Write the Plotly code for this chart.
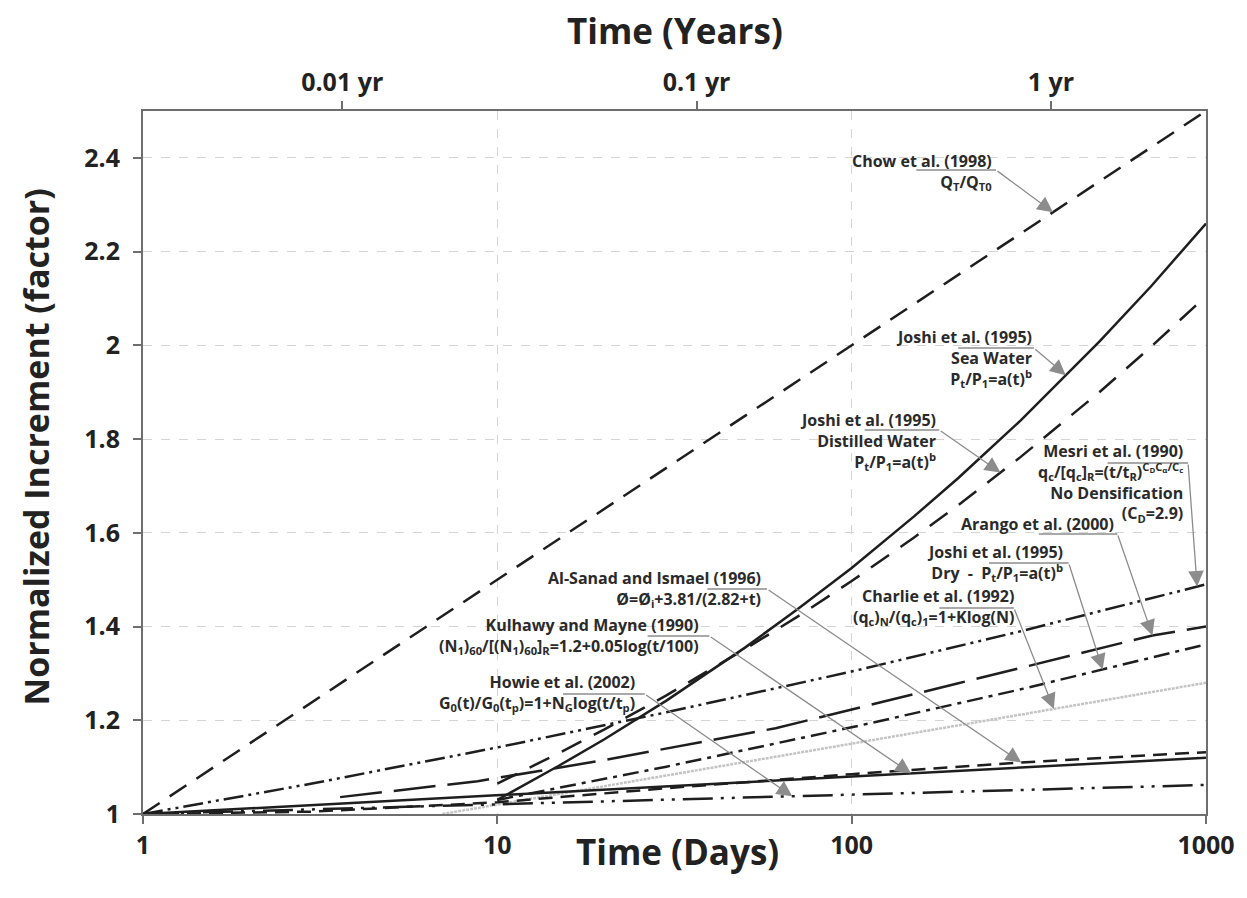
import numpy as np
import plotly.graph_objects as go

# ---------------- data (t in days, normalized increment) ----------------
chow_t = [1, 10, 100, 1000]
chow_y = [1.0, 1.5, 2.0, 2.5]

sea_t = [10, 15, 20, 30, 50, 70, 100, 150, 200, 300, 500, 700, 1000]
sea_y = [1.03, 1.104, 1.159, 1.242, 1.355, 1.436, 1.525, 1.635, 1.717, 1.84, 2.008, 2.126, 2.26]

dist_t = [10, 15, 20, 30, 50, 70, 100, 150, 200, 300, 500, 700, 1000]
dist_y = [1.065, 1.131, 1.18, 1.253, 1.352, 1.42, 1.497, 1.59, 1.659, 1.762, 1.9, 1.997, 2.105]

mesri_t = [1, 3, 10, 30, 100, 300, 1000]
mesri_y = [1.0, 1.065, 1.142, 1.217, 1.304, 1.39, 1.49]

arango_t = [3.6, 8.8, 20, 61, 200, 706, 1000]
arango_y = [1.036, 1.07, 1.115, 1.183, 1.279, 1.381, 1.40]

dry_t = [10, 30, 100, 300, 1000]
dry_y = [1.03, 1.101, 1.185, 1.266, 1.362]

charlie_t = [7, 30, 100, 300, 1000]
charlie_y = [1.0, 1.082, 1.15, 1.212, 1.28]

alsanad_t = [1, 3, 10, 30, 100, 300, 1000]
alsanad_y = [1.0, 1.005, 1.025, 1.055, 1.085, 1.11, 1.132]

kulhawy_t = [1, 10, 100, 1000]
kulhawy_y = [1.0, 1.04, 1.08, 1.12]

howie_t = [1, 10, 100, 1000]
howie_y = [1.0, 1.021, 1.041, 1.062]

y_ticks = [1, 1.2, 1.4, 1.6, 1.8, 2, 2.2, 2.4]
x_ticks = [1, 10, 100, 1000]
yr_ticks_days = [3.65, 36.5, 365]
yr_tick_labels = ["0.01 yr", "0.1 yr", "1 yr"]

# ---------------- geometry helpers (plot area in pixels) ----------------
L, R, T, B = 143, 1211, 111, 814
W, H = 1247, 898


def tx(px):  # pixel x -> days
    return 10 ** ((px - L) / (R - L) * 3)


def vy(py):  # pixel y -> value
    return 1 + (B - py) / (B - T) * 1.5


def paper_x(px):
    return (px - L) / (R - L)


def paper_y(py):
    return (B - py) / (B - T)


def on_curve(ts, ys, t):
    return float(np.interp(np.log10(t), np.log10(ts), ys))


FONT = "Open Sans"
BLACK = "#1e1e1e"

fig = go.Figure()

series = [
    (chow_t, chow_y, BLACK, "20px,12px", 2.5),
    (sea_t, sea_y, BLACK, "solid", 2.5),
    (dist_t, dist_y, BLACK, "22px,14px", 2.5),
    (mesri_t, mesri_y, BLACK, "20px,5px,3px,5px,3px,5px", 2.5),
    (arango_t, arango_y, BLACK, "42px,12px", 2.5),
    (dry_t, dry_y, BLACK, "16px,6px,4px,6px", 2.5),
    (charlie_t, charlie_y, "#c4c4c4", "3px,1px", 2.5),
    (alsanad_t, alsanad_y, BLACK, "14px,8px", 2.5),
    (kulhawy_t, kulhawy_y, BLACK, "solid", 2.5),
    (howie_t, howie_y, BLACK, "30px,8px,3px,8px,3px,8px", 2.5),
]
for ts, ys, col, dash, w in series:
    fig.add_trace(go.Scatter(x=ts, y=ys, mode="lines",
                             line=dict(color=col, dash=dash, width=w),
                             hoverinfo="skip"))

# dummy trace so the top (years) axis is drawn
fig.add_trace(go.Scatter(x=[1, 1000], y=[1, 1], xaxis="x2", mode="lines",
                         line=dict(color="rgba(0,0,0,0)"), hoverinfo="skip"))

# ---------------- labels with underline + leader arrows ----------------
# (text, right edge px, middle y px, underline x0 px, underline x1 px, underline y px, series, tip t)
labels = [
    ("Chow et al. (1998)<br>Q<sub>T</sub>/Q<sub>T0</sub>", 998, 172, 920, 1000, 170, (chow_t, chow_y), 370),
    ("Joshi et al. (1995)<br>Sea Water<br>P<sub>t</sub>/P<sub>1</sub>=a(t)<sup>b</sup>", 1038, 358, 962, 1038, 348, (sea_t, sea_y), 402),
    ("Joshi et al. (1995)<br>Distilled Water<br>P<sub>t</sub>/P<sub>1</sub>=a(t)<sup>b</sup>", 942, 441, 868, 943, 430, (dist_t, dist_y), 263),
    ("Mesri et al. (1990)<br>q<sub>c</sub>/[q<sub>c</sub>]<sub>R</sub>=(t/t<sub>R</sub>)<sup>C<sub>D</sub>C<sub>α</sub>/C<sub>c</sub></sup><br>No Densification<br>(C<sub>D</sub>=2.9)", 1190, 483, 1112, 1193, 463, (mesri_t, mesri_y), 944),
    ("Arango et al. (2000)", 1121, 524, 1043, 1122, 534, (arango_t, arango_y), 706),
    ("Joshi et al. (1995)<br>Dry  -  P<sub>t</sub>/P<sub>1</sub>=a(t)<sup>b</sup>", 1069, 563, 993, 1073, 563, (dry_t, dry_y), 511),
    ("Charlie et al. (1992)<br>(q<sub>c</sub>)<sub>N</sub>/(q<sub>c</sub>)<sub>1</sub>=1+Klog(N)", 1020, 607, 943, 1018, 608, (charlie_t, charlie_y), 372),
    ("Al-Sanad and Ismael (1996)<br>Ø=Ø<sub>i</sub>+3.81/(2.82+t)", 766, 589, 710, 770, 589, (alsanad_t, alsanad_y), 301),
    ("Kulhawy and Mayne (1990)<br>(N<sub>1</sub>)<sub>60</sub>/[(N<sub>1</sub>)<sub>60</sub>]<sub>R</sub>=1.2+0.05log(t/100)", 704, 636, 650, 712, 636, (kulhawy_t, kulhawy_y), 147),
    ("Howie et al. (2002)<br>G<sub>0</sub>(t)/G<sub>0</sub>(t<sub>p</sub>)=1+N<sub>G</sub>log(t/t<sub>p</sub>)", 639, 693, 565, 647, 694, (howie_t, howie_y), 68),
]

annotations = []
GRAYL = "#8c8c8c"
for text, rx, my, ux0, ux1, uy, (sts, sys_), ttip in labels:
    annotations.append(dict(x=np.log10(tx(rx)), y=vy(my), xref="x", yref="y",
                            text=text, showarrow=False, xanchor="right",
                            yanchor="middle", align="right",
                            font=dict(family=FONT, size=16, color="#2a2a2a", weight="bold")))
    fig.add_trace(go.Scatter(x=[tx(ux0), tx(ux1)], y=[vy(uy), vy(uy)], mode="lines",
                             line=dict(color=GRAYL, width=1.3), hoverinfo="skip"))
    annotations.append(dict(x=np.log10(ttip), y=on_curve(sts, sys_, ttip), xref="x", yref="y",
                            ax=np.log10(tx(ux1)), ay=vy(uy), axref="x", ayref="y",
                            text="", showarrow=True, arrowhead=2, arrowsize=2.4,
                            arrowwidth=1.3, arrowcolor=GRAYL, standoff=0))

# Axis titles
annotations.append(dict(x=paper_x(680), y=paper_y(852), xref="paper", yref="paper",
                        text="Time (Days)", showarrow=False, xanchor="center", yanchor="middle",
                        font=dict(family=FONT, size=35, color="#222", weight="bold")))
annotations.append(dict(x=paper_x(677), y=paper_y(30), xref="paper", yref="paper",
                        text="Time (Years)", showarrow=False, xanchor="center", yanchor="middle",
                        font=dict(family=FONT, size=35, color="#222", weight="bold")))
annotations.append(dict(x=paper_x(35), y=paper_y(447), xref="paper", yref="paper",
                        text="Normalized Increment (factor)", showarrow=False, textangle=-90,
                        xanchor="center", yanchor="middle",
                        font=dict(family=FONT, size=34, color="#222", weight="bold")))

axis_line = dict(showline=True, linecolor="#6e6e6e", linewidth=2,
                 ticks="outside", ticklen=8, tickwidth=2, tickcolor="#6e6e6e")

fig.update_layout(
    width=W, height=H,
    margin=dict(l=L, r=W - R, t=T, b=H - B),
    plot_bgcolor="white", paper_bgcolor="white",
    showlegend=False,
    annotations=annotations,
    xaxis=dict(type="log", range=[0, 3], tickvals=x_ticks, ticktext=[str(v) for v in x_ticks],
               showgrid=True, gridcolor="#d4d4d4", griddash="dash", gridwidth=1,
               zeroline=False, mirror=False,
               tickfont=dict(family=FONT, size=25, color="#222", weight="bold"),
               **axis_line),
    xaxis2=dict(type="log", range=[0, 3], overlaying="x", side="top", anchor="y",
                tickvals=yr_ticks_days, ticktext=yr_tick_labels, showgrid=False,
                zeroline=False,
                tickfont=dict(family=FONT, size=25, color="#222", weight="bold"),
                **axis_line),
    yaxis=dict(range=[1, 2.5], tickvals=y_ticks, ticktext=[f"{v:g}" for v in y_ticks],
               showgrid=True, gridcolor="#d4d4d4", griddash="dash", gridwidth=1,
               zeroline=False, mirror=True, ticklabelstandoff=8,
               tickfont=dict(family=FONT, size=25, color="#222", weight="bold"),
               **axis_line),
)

fig.write_html("out.html")
